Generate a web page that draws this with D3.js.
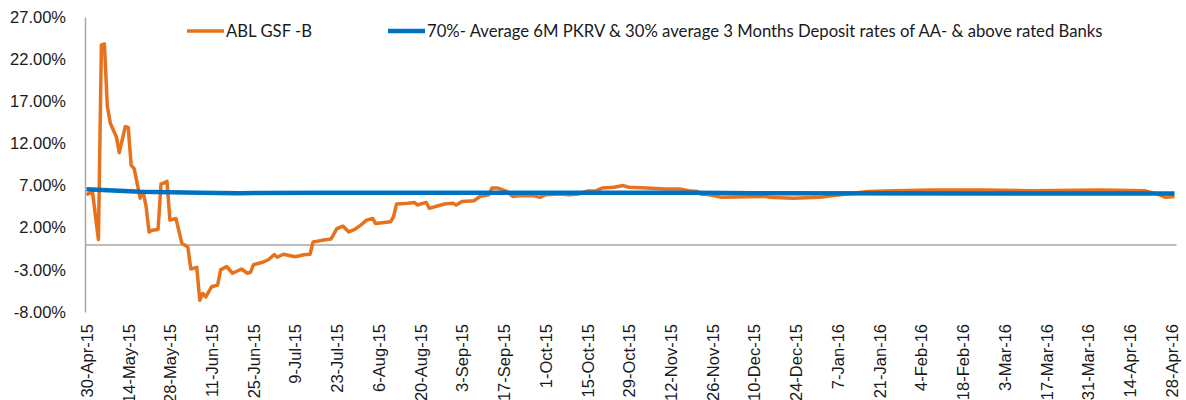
<!DOCTYPE html>
<html>
<head>
<meta charset="utf-8">
<script src="https://cdn.jsdelivr.net/npm/d3@7"></script>
<style>
  body { margin: 0; background: #fff; }
  svg { display: block; font-family: Lato, "Open Sans", sans-serif; }
</style>
</head>
<body>
<div id="chart"></div>
<script>
// Series data (dates are daily NAV points)
var fundDates = [
  "2015-04-30", "2015-05-02", "2015-05-04", "2015-05-05", "2015-05-06", "2015-05-07",
  "2015-05-08", "2015-05-10", "2015-05-11", "2015-05-13", "2015-05-14", "2015-05-15",
  "2015-05-16", "2015-05-18", "2015-05-19", "2015-05-20", "2015-05-21", "2015-05-22",
  "2015-05-24", "2015-05-25", "2015-05-26", "2015-05-27", "2015-05-28", "2015-05-30",
  "2015-06-01", "2015-06-03", "2015-06-04", "2015-06-06", "2015-06-07", "2015-06-08",
  "2015-06-09", "2015-06-11", "2015-06-13", "2015-06-14", "2015-06-16", "2015-06-18",
  "2015-06-21", "2015-06-23", "2015-06-24", "2015-06-25", "2015-06-28", "2015-06-30",
  "2015-07-02", "2015-07-03", "2015-07-05", "2015-07-09", "2015-07-12", "2015-07-14",
  "2015-07-15", "2015-07-18", "2015-07-21", "2015-07-23", "2015-07-25", "2015-07-27",
  "2015-07-29", "2015-07-31", "2015-08-02", "2015-08-04", "2015-08-05", "2015-08-10",
  "2015-08-11", "2015-08-12", "2015-08-16", "2015-08-18", "2015-08-19", "2015-08-22",
  "2015-08-23", "2015-08-26", "2015-08-28", "2015-08-31", "2015-09-01", "2015-09-03",
  "2015-09-07", "2015-09-09", "2015-09-12", "2015-09-13", "2015-09-15", "2015-09-18",
  "2015-09-20", "2015-09-22", "2015-09-27", "2015-09-29", "2015-10-01", "2015-10-06",
  "2015-10-09", "2015-10-12", "2015-10-15", "2015-10-18", "2015-10-20", "2015-10-24",
  "2015-10-27", "2015-10-29", "2015-11-04", "2015-11-10", "2015-11-15", "2015-11-18",
  "2015-11-21", "2015-11-22", "2015-11-25", "2015-11-29", "2015-12-14", "2015-12-15",
  "2015-12-23", "2016-01-01", "2016-01-05", "2016-01-10", "2016-01-17", "2016-01-26",
  "2016-02-08", "2016-02-25", "2016-03-12", "2016-04-04", "2016-04-19", "2016-04-24",
  "2016-04-26", "2016-04-29"
];
var fundValues = [
  5.9, 6.3, 0.6, 23.7, 23.8, 16.4,
  14.4, 12.8, 10.9, 14.0, 13.9, 9.4,
  9.0, 5.5, 6.3, 4.5, 1.5, 1.7,
  1.8, 7.2, 7.3, 7.5, 2.9, 3.1,
  0.15, -0.3, -2.9, -2.7, -6.6, -5.8,
  -6.2, -5.0, -4.8, -3.0, -2.6, -3.4,
  -2.9, -3.4, -3.3, -2.4, -2.1, -1.8,
  -1.2, -1.5, -1.15, -1.45, -1.2, -1.15,
  0.3, 0.5, 0.65, 1.9, 2.2, 1.5,
  1.8, 2.3, 2.9, 3.1, 2.5, 2.7,
  3.3, 4.8, 4.9, 5.0, 4.7, 5.0,
  4.3, 4.6, 4.8, 4.9, 4.7, 5.1,
  5.2, 5.7, 5.9, 6.7, 6.7, 6.3,
  5.7, 5.8, 5.8, 5.6, 5.9, 6.0,
  5.9, 6.0, 6.35, 6.4, 6.7, 6.8,
  7.0, 6.8, 6.7, 6.6, 6.6, 6.4,
  6.3, 6.0, 5.9, 5.6, 5.7, 5.6,
  5.5, 5.6, 5.8, 6.0, 6.3, 6.4,
  6.48, 6.48, 6.4, 6.48, 6.4, 5.9,
  5.6, 5.7
];

var benchDates = ["2015-04-30", "2015-05-18", "2015-06-07", "2015-06-20", "2015-07-20",
  "2015-11-20", "2015-12-10", "2016-04-29"];
var benchValues = [6.55, 6.27, 6.16, 6.1, 6.16, 6.14, 6.08, 6.05];

var yTicks = [-8, -3, 2, 7, 12, 17, 22, 27];
var xTickLabels = [
  "30-Apr-15", "14-May-15", "28-May-15", "11-Jun-15", "25-Jun-15", "9-Jul-15",
  "23-Jul-15", "6-Aug-15", "20-Aug-15", "3-Sep-15", "17-Sep-15", "1-Oct-15",
  "15-Oct-15", "29-Oct-15", "12-Nov-15", "26-Nov-15", "10-Dec-15", "24-Dec-15",
  "7-Jan-16", "21-Jan-16", "4-Feb-16", "18-Feb-16", "3-Mar-16", "17-Mar-16",
  "31-Mar-16", "14-Apr-16", "28-Apr-16"
];

var seriesNames = ["ABL GSF -B",
  "70%- Average 6M PKRV & 30% average 3 Months Deposit rates of AA- & above rated Banks"];
var seriesColors = ["#E8711B", "#0070C0"];

// Layout
var width = 1186, height = 400;
var plot = { left: 85, right: 1176, top: 17, bottom: 312 };

var parseDay = d3.utcParse("%Y-%m-%d");
var parseLabel = d3.utcParse("%d-%b-%y");
var halfDay = 12 * 3600 * 1000;

// Excel date axis: each day sits in the middle of its slot
var x = d3.scaleUtc()
  .domain([parseDay("2015-04-30"), parseDay("2016-04-30")])
  .range([plot.left, plot.right]);
var y = d3.scaleLinear()
  .domain([-8, 27])
  .range([plot.bottom, plot.top]);

function xDay(d) { return x(new Date(d.getTime() + halfDay)); }

var svg = d3.select("#chart").append("svg")
  .attr("width", width)
  .attr("height", height);

// y axis
var yAxis = d3.axisLeft(y)
  .tickValues(yTicks)
  .tickSize(0)
  .tickPadding(19)
  .tickFormat(function (v) { return v.toFixed(2) + "%"; });

var gy = svg.append("g")
  .attr("transform", "translate(" + plot.left + ",0)")
  .call(yAxis);
gy.select(".domain").attr("stroke", "#A6A6A6").attr("stroke-width", 1.5);
gy.selectAll("text").attr("font-size", 16.5).attr("fill", "#1a1a1a");

// x axis on the zero line
var xAxis = d3.axisBottom(x)
  .tickValues(xTickLabels.map(function (s) { return new Date(parseLabel(s).getTime() + halfDay); }))
  .tickSize(0)
  .tickFormat(d3.utcFormat("%-d-%b-%y"));

var gx = svg.append("g")
  .attr("transform", "translate(0," + y(0) + ")")
  .call(xAxis);
gx.select(".domain").attr("stroke", "#A6A6A6").attr("stroke-width", 1.5);

// tick labels hang below the plot, rotated
gx.selectAll(".tick text")
  .attr("font-size", 16.5)
  .attr("fill", "#1a1a1a")
  .attr("text-anchor", "end")
  .attr("dy", "0.35em")
  .attr("transform", "translate(0," + (324 - y(0)) + ") rotate(-90)")
  .attr("x", 0)
  .attr("y", 0);

// lines
var line = d3.line()
  .x(function (d) { return xDay(d.date); })
  .y(function (d) { return y(d.value); });

var fund = fundDates.map(function (d, i) { return { date: parseDay(d), value: fundValues[i] }; });
var bench = benchDates.map(function (d, i) { return { date: parseDay(d), value: benchValues[i] }; });

svg.append("path")
  .datum(fund)
  .attr("fill", "none")
  .attr("stroke", seriesColors[0])
  .attr("stroke-width", 3.5)
  .attr("stroke-linejoin", "round")
  .attr("d", line);

svg.append("path")
  .datum(bench)
  .attr("fill", "none")
  .attr("stroke", seriesColors[1])
  .attr("stroke-width", 4.5)
  .attr("stroke-linejoin", "round")
  .attr("d", line);

// legend
var legendX = [187, 388];
var legend = svg.append("g");
seriesNames.forEach(function (name, i) {
  legend.append("line")
    .attr("x1", legendX[i]).attr("x2", legendX[i] + 37)
    .attr("y1", 31).attr("y2", 31)
    .attr("stroke", seriesColors[i])
    .attr("stroke-width", i == 0 ? 3.5 : 4.5);
  legend.append("text")
    .attr("x", legendX[i] + 39)
    .attr("y", 31)
    .attr("dy", "0.35em")
    .attr("font-size", 16.7)
    .attr("fill", "#1a1a1a")
    .text(name);
});
</script>
</body>
</html>
